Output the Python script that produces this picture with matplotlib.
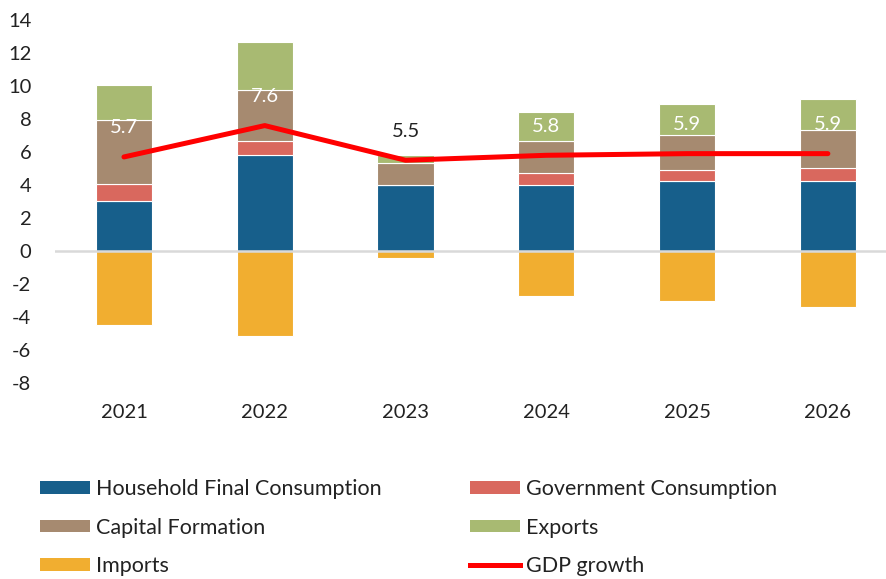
import matplotlib
matplotlib.use("Agg")
import matplotlib.pyplot as plt
from matplotlib.patches import Patch
from matplotlib.lines import Line2D
import numpy as np

years = ["2021", "2022", "2023", "2024", "2025", "2026"]
household = [3.0, 5.8, 4.0, 4.0, 4.25, 4.25]
government = [1.05, 0.85, 0.0, 0.7, 0.65, 0.8]
capital = [3.9, 3.1, 1.35, 1.95, 2.1, 2.3]
exports = [2.1, 2.9, 0.45, 1.75, 1.9, 1.85]
imports = [-4.5, -5.15, -0.45, -2.75, -3.05, -3.4]
gdp = [5.7, 7.6, 5.5, 5.8, 5.9, 5.9]
y_ticks = [14, 12, 10, 8, 6, 4, 2, 0, -2, -4, -6, -8]

FONT = ["Lato", "DejaVu Sans"]
plt.rcParams["font.family"] = FONT

c_house = "#175F8B"
c_gov = "#D9685E"
c_cap = "#A68A70"
c_exp = "#A8BA72"
c_imp = "#F1AE30"
c_gdp = "#FF0000"

fig = plt.figure(figsize=(8.87, 5.79), dpi=100)
ax = fig.add_axes([0.062, 0.3385, 0.938, 0.627])

x = np.arange(len(years))
w = 0.4
ek = dict(edgecolor="white", linewidth=0.8, width=w)
b = np.zeros(len(years))
ax.bar(x, household, bottom=b, color=c_house, **ek); b += household
ax.bar(x, government, bottom=b, color=c_gov, **ek); b += government
ax.bar(x, capital, bottom=b, color=c_cap, **ek); b += capital
ax.bar(x, exports, bottom=b, color=c_exp, **ek)
ax.bar(x, imports, color=c_imp, **ek)

ax.axhline(0, color="#D9D9D9", linewidth=1.8, zorder=1.5)
ax.plot(x, gdp, color=c_gdp, linewidth=3.6, solid_capstyle="round", zorder=4)

label_colors = ["white", "white", "#222222", "white", "white", "white"]
for xi, v, lc in zip(x, gdp, label_colors):
    ax.annotate(f"{v:.1f}", (xi, v), xytext=(0, 29), textcoords="offset pixels",
                ha="center", va="center", fontsize=14.5, color=lc, zorder=5)

ax.set_xlim(-0.49, 5.42)
ax.set_ylim(-8, 14)
ax.set_yticks(y_ticks)
ax.set_yticklabels([str(t) for t in y_ticks])
ax.set_xticks(x)
ax.set_xticklabels(years)
for s in ax.spines.values():
    s.set_visible(False)
ax.tick_params(axis="both", length=0, labelsize=14.5, colors="#222222")
ax.tick_params(axis="y", pad=17)
ax.tick_params(axis="x", pad=15)
for lbl in ax.get_yticklabels():
    lbl.set_horizontalalignment("right")

handles = [
    Patch(facecolor=c_house, label="Household Final Consumption"),
    Patch(facecolor=c_cap, label="Capital Formation"),
    Patch(facecolor=c_imp, label="Imports"),
    Patch(facecolor=c_gov, label="Government Consumption"),
    Patch(facecolor=c_exp, label="Exports"),
    Line2D([0], [0], color=c_gdp, linewidth=3.6, label="GDP growth"),
]
fig.legend(handles=handles, ncol=2, loc="upper left", bbox_to_anchor=(0.023, 0.206),
           frameon=False, fontsize=15.5, handlelength=2.35, handleheight=0.55,
           handletextpad=0.25, columnspacing=4.1, labelspacing=0.86, labelcolor="#222222")

fig.savefig("out.png", dpi=100)
